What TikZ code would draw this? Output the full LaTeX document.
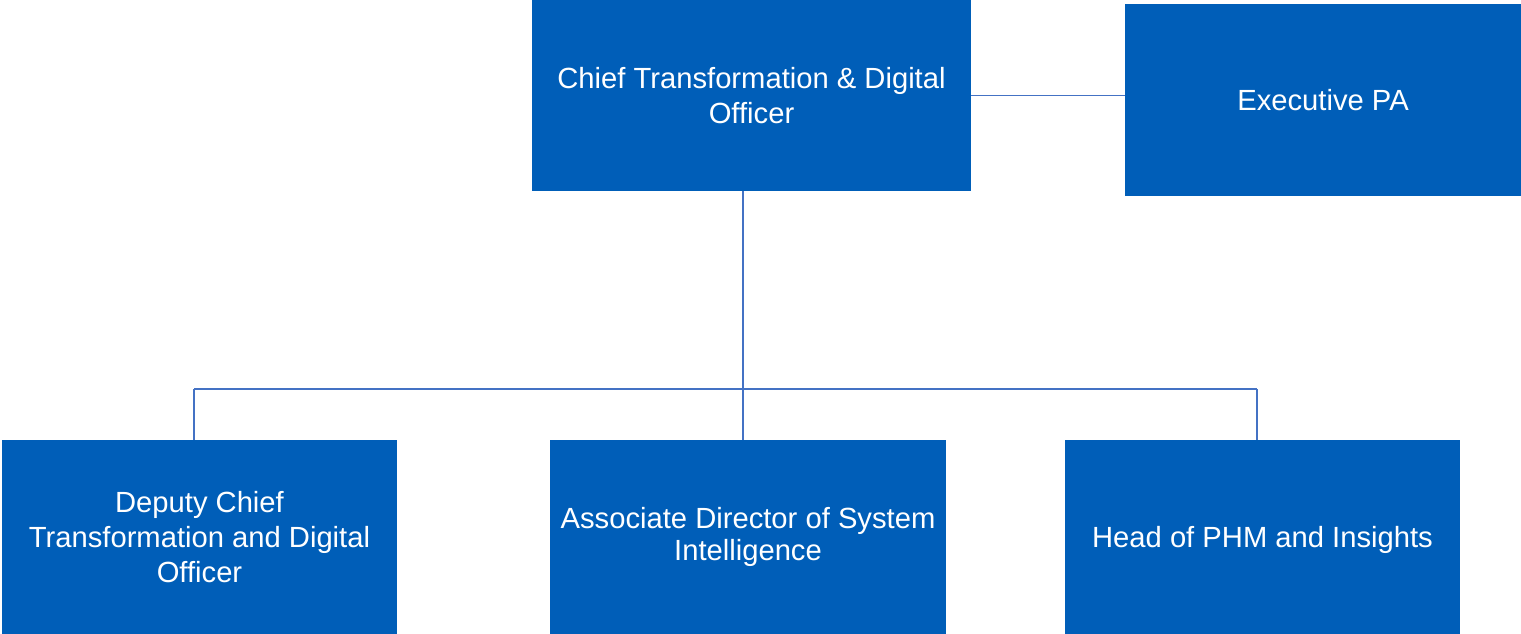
\documentclass[tikz,border=0pt]{standalone}
\usepackage{fontspec}
\setmainfont{Liberation Sans}
\definecolor{nhsblue}{RGB}{0,94,184}
\definecolor{linkblue}{RGB}{68,114,196}
\begin{document}
\begin{tikzpicture}[x=0.01cm,y=-0.01cm,
		role/.style={fill=nhsblue,text=white,align=center,inner sep=0pt,outer sep=0pt,
			minimum width=3.95cm,minimum height=1.94cm,
			font=\fontsize{8.3}{10}\selectfont},
		link/.style={draw=linkblue,line width=0.5pt}]
			%canvas
			\useasboundingbox (0,0) rectangle (1521,634);
			\def\bus{389}
			%top row
			\node[role,minimum width=4.39cm,minimum height=1.91cm] (chief) at (751.5,95.5)
				{Chief Transformation \& Digital\\Officer};
			\node[role,minimum width=3.96cm,minimum height=1.92cm] (pa) at (1323,100) {Executive PA};
			%bottom row
			\node[role] (deputy) at (199.5,537) {Deputy Chief\\Transformation and Digital\\Officer};
			\node[role,font=\fontsize{8.3}{9.1}\selectfont] (assoc) at (748,537)
				{Associate Director of System\\Intelligence};
			\node[role,text depth=0pt] (head) at (1262.5,537) {Head of PHM and Insights};
			%links
			\draw[link] (chief.east) -- (pa.west |- chief.east);
			\coordinate (hub) at (743,\bus);
			\draw[link] (chief.south -| hub) -- (hub);
			\draw[link] (194,\bus) -- (1257,\bus);
			\foreach \n/\dx in {deputy/-5.5,assoc/-5,head/-5.5}
				\draw[link] ([xshift=\dx*0.01cm]\n.north) -- ([xshift=\dx*0.01cm]\n.north |- hub);
		\end{tikzpicture}
\end{document}
